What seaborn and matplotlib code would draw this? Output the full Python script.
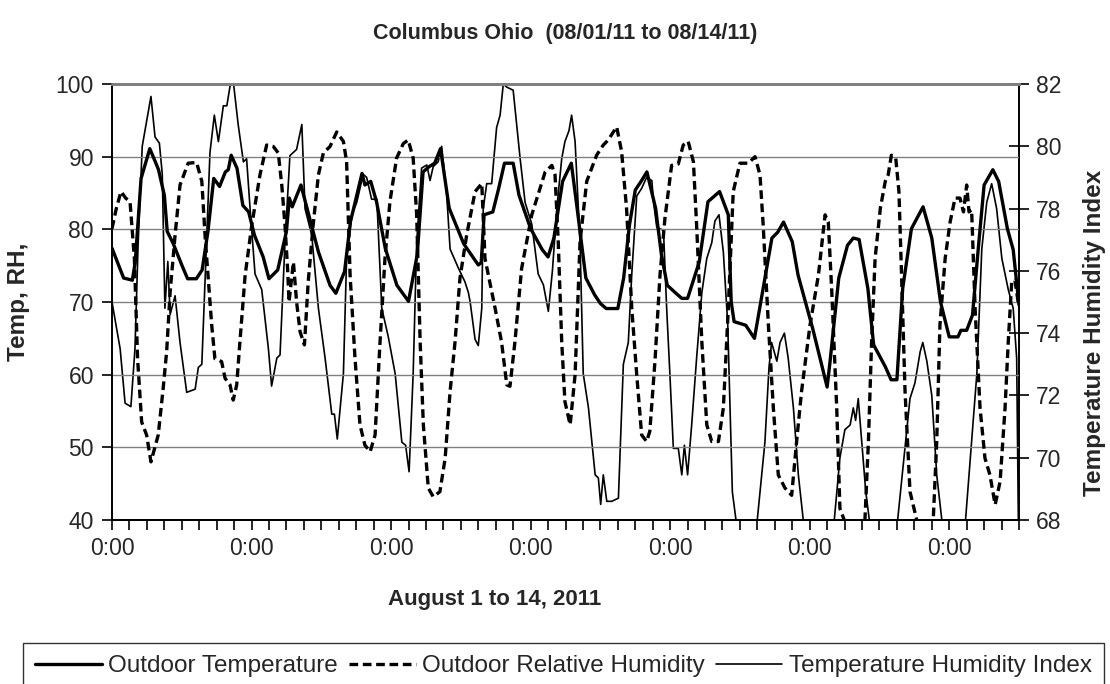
import numpy as np
import pandas as pd
import matplotlib
matplotlib.use("Agg")
import matplotlib.pyplot as plt
import seaborn as sns
from matplotlib.ticker import MultipleLocator, FixedLocator, FuncFormatter
from matplotlib.lines import Line2D

# ---------------- data (hours since 08/01/11 0:00) ----------------
temp_hours = [0,4,7,8,10,13,15,16,18,19,21,24,26,29,31,33,35,37,39,40,41,43,45,47,49,52,54,57,60,61,
              62,65,68,71,75,77,80,82,86,87,89,91,94,98,102,105,107,109,111,113,116,121,126,127,128,131,133,135,138,140,
              144,148,150,152,155,158,160,163,166,168,170,174,176,178,180,182,184,187,189,191,194,196,198,202,205,209,212,213,214,218,
              221,224,227,229,231,234,236,241,246,247,250,253,255,257,260,262,266,268,270,272,275,279,282,285,288,291,292,294,296,298,
              300,303,305,308,310,312]
temp_values = [77.4,73.3,73.0,75.5,87.0,91.1,89.2,88.2,84.7,79.7,78.1,75.1,73.2,73.2,74.4,79.7,87.0,85.9,87.9,88.2,
               90.2,88.4,83.3,82.4,79.2,76.2,73.2,74.4,79.7,84.3,83.1,86.1,81.5,76.9,72.3,71.2,74.2,81.0,87.7,86.1,
               86.6,83.8,77.4,72.3,70.1,76.5,87.9,88.6,89.1,91.1,82.9,78.0,75.1,75.4,82.0,82.4,85.6,89.1,89.1,84.7,
               80.1,77.2,76.2,78.8,86.6,89.1,82.9,73.3,71.0,69.8,69.1,69.1,73.3,80.6,85.4,86.6,87.9,82.9,76.5,72.3,
               71.2,70.5,70.5,75.5,83.8,85.2,82.0,70.0,67.3,66.8,65.0,71.9,78.8,79.6,81.0,78.3,73.7,66.4,58.3,61.8,
               73.3,77.8,78.8,78.6,71.9,64.1,61.1,59.3,59.3,71.9,80.1,83.1,78.8,70.0,65.2,65.2,66.1,66.1,68.2,77.4,
               86.1,88.2,86.6,80.1,77.2,69.6]

rh_hours = [0,1.5,3.1,4.7,6.2,7.7,8.8,10.2,11.9,13.4,15.9,17.6,18.8,20.0,21.7,23.4,26.2,29.1,30.9,32.0,
            34.3,35.4,37.7,38.9,40.6,41.7,42.9,44.0,45.8,48.1,50.9,53.2,55.5,57.2,58.4,59.5,60.4,60.9,62.4,63.5,
            64.7,66.2,67.5,69.2,71.0,72.7,75.0,77.3,79.6,80.7,81.9,83.6,85.3,87.0,88.8,90.5,92.2,93.9,95.6,97.9,
            100.2,101.9,103.6,104.8,106.0,107.1,108.8,110.5,112.8,114.6,116.3,118.0,119.7,122.0,124.9,127.2,128.3,131.8,134.0,135.8,
            136.9,138.6,140.9,144.4,149.0,151.3,152.4,153.5,154.7,155.8,157.6,159.3,161.0,163.3,166.7,169.0,170.7,173.6,175.3,177.0,
            178.8,180.5,182.2,183.9,185.0,186.8,188.5,190.2,192.5,194.8,196.5,198.2,200.0,201.1,202.9,204.6,206.3,208.6,210.3,212.0,
            213.7,216.0,218.9,221.2,222.9,224.0,225.8,227.5,229.2,231.5,233.8,235.5,237.2,240.1,243.0,245.3,246.4,247.6,249.3,250.4,
            254.6,259.0,260.2,261.3,262.5,264.3,266.0,267.0,268.1,269.6,270.7,271.6,272.8,274.5,278.6,282.5,283.7,284.8,286.6,288.3,
            290.0,291.7,292.9,294.0,294.8,295.7,296.9,298.6,300.3,302.0,303.8,305.5,307.2,308.3,309.5,310.6,311.7]
rh_values = [80.1,82.9,85.2,84.3,83.8,76.0,62.2,53.5,51.7,48.0,51.7,58.1,63.2,71.4,79.2,86.1,89.1,89.2,86.6,79.2,
             66.8,62.2,61.8,59.5,58.6,56.5,58.6,64.5,73.7,80.6,87.5,91.6,91.4,90.5,86.1,80.6,74.6,70.0,75.5,70.0,
             65.9,64.1,72.8,80.6,87.5,90.5,91.4,93.4,92.1,89.3,73.7,62.2,53.1,50.3,49.4,51.7,64.5,76.0,83.8,89.8,
             91.8,92.3,89.8,82.0,64.5,53.1,44.4,43.2,43.9,48.5,57.7,64.5,73.3,79.2,85.2,86.3,76.0,69.1,64.5,58.6,
             58.4,64.5,74.6,82.0,87.9,88.8,87.5,78.3,64.5,56.3,53.1,60.0,78.3,86.6,90.2,91.6,92.3,94.1,90.7,82.9,
             69.1,60.0,51.7,50.8,52.2,62.0,73.7,81.5,88.8,89.0,91.6,92.1,89.3,80.6,64.5,53.1,50.8,50.8,55.4,69.1,
             85.2,89.1,89.1,90.0,87.5,80.6,66.8,55.4,46.2,44.4,43.4,50.8,57.7,66.8,73.7,82.0,81.0,71.4,55.4,41.6,
             37.0,40.0,50.8,64.5,76.0,82.9,86.6,87.5,90.2,89.8,85.2,73.7,57.7,43.9,37.0,40.0,50.8,66.8,76.0,81.0,
             84.3,84.3,82.4,86.1,82.4,82.7,69.1,55.4,48.5,46.2,42.1,45.3,55.4,64.5,72.8,73.0,70.0]

thi_hours = [0,2.8,4.5,6.5,7.9,9.0,10.4,11.9,13.4,14.8,16.3,17.3,18.2,19.2,20.0,21.7,23.4,25.7,28.6,29.7,
             30.9,32.0,33.7,35.2,36.6,38.3,39.5,40.9,41.7,43.4,45.2,46.3,47.5,49.2,51.5,53.8,54.9,56.7,57.8,59.5,
             61.2,63.5,65.3,66.4,68.7,71.0,73.3,75.6,76.5,77.5,79.6,80.7,82.5,84.2,86.4,87.6,89.3,91.1,92.8,95.0,
             97.4,99.7,101.0,102.2,103.6,104.8,106.5,108.3,109.4,110.5,112.2,113.4,115.1,116.3,119.1,121.4,122.6,123.2,124.9,126.0,
             127.2,127.7,128.9,130.6,132.3,133.5,134.6,135.8,138.0,139.2,140.4,142.1,144.4,146.6,148.4,150.1,151.5,153.0,154.7,155.8,
             157.2,158.1,159.3,161.0,162.1,163.9,166.2,167.3,168.1,169.0,170.2,171.9,174.2,175.9,177.6,178.8,180.5,182.2,183.9,185.7,
             186.3,187.4,189.7,190.8,191.9,193.1,194.8,196.0,196.9,198.0,199.4,201.1,202.9,204.6,206.3,207.4,208.8,210.3,211.8,212.6,
             213.4,218.8,224.6,226.0,226.9,228.7,229.8,231.3,232.6,234.4,236.1,243.6,250.4,252.1,253.9,255.0,255.8,256.7,257.9,259.3,
             265.9,274.5,276.2,278.0,278.9,280.3,282.0,283.7,290.3,297.5,299.2,300.9,302.6,304.3,306.1,307.2,308.3,310.0,311.2,312.0]
thi_values = [75.0,73.5,71.75,71.64,73.5,76.9,80.0,80.8,81.6,80.3,80.1,79.1,74.8,76.3,74.6,75.2,73.7,72.1,72.2,72.9,
              73.0,75.65,79.8,81.0,80.15,81.3,81.3,82.1,82.1,80.7,79.5,79.6,78.0,75.9,75.4,73.5,72.3,73.2,73.3,76.9,
              79.7,79.9,80.7,78.0,77.15,74.8,73.2,71.4,71.4,70.6,72.7,76.4,77.8,78.2,79.1,79.0,78.3,78.3,74.8,73.9,
              72.7,70.5,70.4,69.55,72.7,76.9,79.3,79.4,78.9,79.35,79.5,80.0,78.5,76.7,76.1,75.65,75.3,75.0,73.8,73.6,
              74.8,78.0,78.8,78.8,80.6,81.0,82.0,81.9,81.8,80.7,79.6,78.2,77.5,75.9,75.55,74.7,76.0,78.0,79.6,80.15,
              80.5,81.0,80.15,76.9,72.7,71.6,69.45,69.35,68.5,69.45,68.6,68.6,68.7,73.0,73.7,75.9,78.4,78.65,79.0,78.9,
              78.2,77.4,77.3,74.8,72.7,70.3,70.3,69.45,70.4,69.45,71.05,73.2,75.3,76.4,76.9,77.6,77.8,76.6,74.3,71.6,
              68.9,65.0,70.5,72.9,73.7,73.1,73.7,74.0,73.2,71.6,69.45,63.0,70.0,70.9,71.05,71.6,71.2,71.9,70.5,68.9,
              64.0,71.9,72.4,73.4,73.7,73.1,72.0,69.45,64.0,72.7,76.7,78.2,78.8,78.0,76.4,75.9,75.4,74.8,73.2,66.0]

left_ticks = [40, 50, 60, 70, 80, 90, 100]
right_ticks = [68, 70, 72, 74, 76, 78, 80, 82]
x_label_hours = [0, 48, 96, 144, 192, 240, 288]
x_tick_label = "0:00"

title = "Columbus Ohio  (08/01/11 to 08/14/11)"
xlabel = "August 1 to 14, 2011"
ylabel_left = "Temp, RH,"
ylabel_right = "Temperature Humidity Index"
series_names = ["Outdoor Temperature", "Outdoor Relative Humidity", "Temperature Humidity Index"]

# ---------------- style ----------------
sns.set_style("white")
FAM = ["Liberation Sans", "DejaVu Sans"]
plt.rcParams["font.family"] = FAM
plt.rcParams["axes.unicode_minus"] = False
S_TITLE, S_XLAB, S_YLAB, S_TICK, S_LEG = 15.5, 16, 17.5, 16.5, 17.5

fig = plt.figure(figsize=(11.10, 6.84), dpi=100)
ax = fig.add_axes([112/1110, 1-520/684, 907/1110, 436/684])
ax2 = ax.twinx()

df_t = pd.DataFrame({"h": temp_hours, "v": temp_values})
df_r = pd.DataFrame({"h": rh_hours, "v": rh_values})
df_i = pd.DataFrame({"h": thi_hours, "v": thi_values})

LW_THICK = 2.4
LW_THIN = 1.2
DASH = (0, (2.6, 1.4))

ax.set_zorder(2); ax2.set_zorder(1); ax.patch.set_visible(False)
sns.lineplot(data=df_t, x="h", y="v", ax=ax, color="black", lw=LW_THICK, estimator=None, sort=False)
sns.lineplot(data=df_r, x="h", y="v", ax=ax, color="black", lw=LW_THICK, estimator=None, sort=False)
ax.lines[-1].set_linestyle(DASH)
sns.lineplot(data=df_i, x="h", y="v", ax=ax2, color="black", lw=LW_THIN, estimator=None, sort=False)

ax.set_xlim(0, 312)
ax.set_ylim(40, 100)
ax2.set_ylim(68, 82)

ax.set_yticks(left_ticks)
ax2.set_yticks(right_ticks)
ax.yaxis.grid(True, color="#808080", lw=1.0)
ax.xaxis.grid(False)
ax2.grid(False)

ax.xaxis.set_major_locator(FixedLocator(x_label_hours))
ax.xaxis.set_major_formatter(FuncFormatter(lambda v, p: x_tick_label))
ax.xaxis.set_minor_locator(MultipleLocator(6))

for a in (ax, ax2):
    for sp in a.spines.values():
        sp.set_color("black"); sp.set_linewidth(1.4)
    a.spines["top"].set_color("#808080"); a.spines["top"].set_linewidth(2.0)
    a.set_xlabel(""); a.set_ylabel("")
ax.spines["right"].set_visible(False)
ax2.spines["left"].set_visible(False)

ax.tick_params(axis="y", which="both", direction="out", length=7, width=1.2, color="black",
               labelsize=S_TICK, pad=6, left=True)
ax.tick_params(axis="x", which="both", direction="out", length=7, width=1.2, color="black",
               labelsize=S_TICK, pad=5, bottom=True)
ax2.tick_params(axis="y", direction="inout", length=14, width=1.2, color="black",
                labelsize=S_TICK, pad=5, right=True)

fig.text(0.509, 1-33/684, title, ha="center", va="center", fontsize=S_TITLE, fontweight="bold")
ax.text((495-112)/907, (520-600)/436, xlabel, transform=ax.transAxes, ha="center", va="center",
        fontsize=S_XLAB, fontweight="bold")
ax.text((19-112)/907, 0.5, ylabel_left, transform=ax.transAxes, ha="center", va="center",
        rotation=90, fontsize=S_YLAB, fontweight="bold")
ax2.text((1095-112)/907, 0.43, ylabel_right, transform=ax2.transAxes, ha="center", va="center",
         rotation=90, fontsize=S_YLAB, fontweight="bold")

handles = [Line2D([], [], color="black", lw=LW_THICK),
           Line2D([], [], color="black", lw=LW_THICK, linestyle=DASH),
           Line2D([], [], color="black", lw=LW_THIN)]
leg = fig.legend(handles, series_names, loc="upper center",
                 bbox_to_anchor=(563.5/1110, 1-643/684),
                 ncol=3, frameon=True, fancybox=False, edgecolor="black",
                 fontsize=S_LEG, handlelength=2.75, handletextpad=0.25, columnspacing=0.45,
                 borderpad=0.5, borderaxespad=0)
leg.get_frame().set_linewidth(1.0)

fig.savefig("out.png", dpi=100, facecolor="white")
